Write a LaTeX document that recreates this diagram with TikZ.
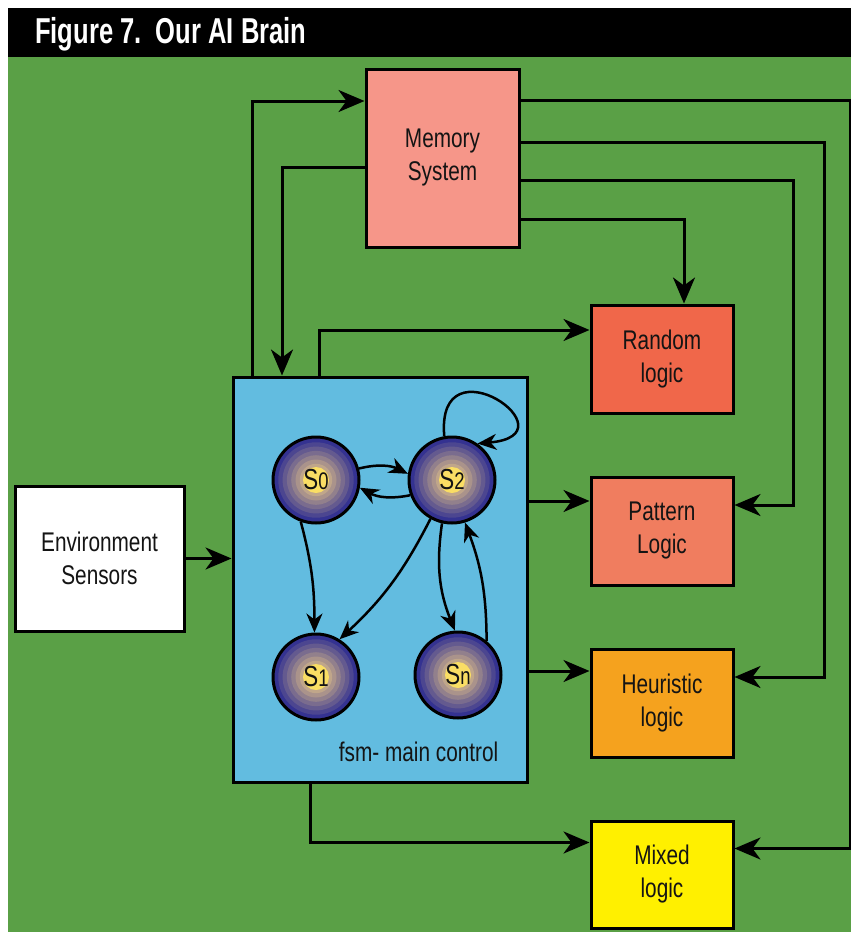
\documentclass[tikz,border=0pt]{standalone}
\usepackage{fontspec}
\setmainfont{Liberation Sans}[FakeStretch=0.77]
\newfontfamily\titlefont{Liberation Sans}[FakeStretch=0.71]
\usepackage{tikz}
\usetikzlibrary{arrows.meta,positioning}

\definecolor{bggreen}{RGB}{90,160,70}
\definecolor{fsmblue}{RGB}{98,188,224}
\definecolor{memfill}{RGB}{246,150,137}
\definecolor{randfill}{RGB}{240,103,74}
\definecolor{pattfill}{RGB}{240,125,95}
\definecolor{heurfill}{RGB}{245,162,30}
\definecolor{mixdfill}{RGB}{255,240,0}
\definecolor{ringnavy}{RGB}{52,50,145}
\definecolor{ringtan}{RGB}{192,166,138}
\definecolor{ringyellow}{RGB}{250,222,100}
\definecolor{inkgray}{RGB}{20,20,20}

\tikzset{
	box/.style	= {draw, line width=3pt, minimum width=142pt, minimum height=108pt, inner sep=0pt,
			   align=center, text=inkgray, font=\fontsize{27}{33}\selectfont},
	wire/.style	= {line width=3pt, -{Stealth[length=26pt, width=22pt, inset=8pt]}},
	trans/.style	= {line width=2.5pt, -{Stealth[length=19pt, width=16pt, inset=6pt]}},
	state/.style	= {circle, draw, line width=3pt, minimum size=86pt, inner sep=0pt,
			   text=inkgray, font=\fontsize{29}{29}\selectfont,
			   path picture={
				\foreach \k in {0,...,6} {
					\pgfmathtruncatemacro\mix{100-\k*100/6}
					\fill[ringnavy!\mix!ringtan] (path picture bounding box.center) circle ({42-\k*4.3});
				}
				\fill[ringyellow] (path picture bounding box.center) circle (13);
			   }},
}

\begin{document}
\begin{tikzpicture}[x=1pt, y=-1pt, on grid]
	\useasboundingbox (0,0) rectangle (851,932);
	\fill[white]	(0,0) rectangle (851,932);
	\fill[black]	(8,8) rectangle (851,57);
	\fill[bggreen]	(8,57) rectangle (851,932);

	\node	(title)	[anchor=base west, inner sep=0pt, text=white, font=\titlefont\bfseries\fontsize{36}{36}\selectfont]
			at (35,43)	{Figure 7.\ \ Our AI Brain};

	\node	(mem)	[box, fill=memfill, minimum width=153pt, minimum height=178pt]	at (442.5,158)	{Memory\\System};
	\node	(env)	[box, fill=white, minimum width=169pt, minimum height=145pt]	at (99.5,558.5)	{Environment\\Sensors};
	\node	(fsm)	[box, fill=fsmblue, minimum width=294pt, minimum height=405pt]	at (380,579.5)	{};

	\node	(rand)	[box, fill=randfill]					at (662,359)	{Random\\logic};
	\node	(patt)	[box, fill=pattfill, below=172pt of rand]		{Pattern\\Logic};
	\node	(heur)	[box, fill=heurfill, below=172pt of patt]		{Heuristic\\logic};
	\node	(mixd)	[box, fill=mixdfill, below=171.5pt of heur, minimum height=107pt]	{Mixed\\logic};

	\node	(S0)	[state]						at (316,480)	{S{\fontsize{24}{24}\selectfont 0}};
	\node	(S2)	[state, right=136pt of S0]			{S{\fontsize{24}{24}\selectfont 2}};
	\node	(S1)	[state, below=197pt of S0]			{S{\fontsize{24}{24}\selectfont 1}};
	\node	(Sn)	[state, below=195pt of S2, xshift=6pt]		{S{\fontsize{24}{24}\selectfont n}};

	\node	(fsmlabel)	[anchor=base east, inner sep=0pt, text=inkgray, font=\fontsize{27}{27}\selectfont]
			at ([xshift=-30pt, yshift=22pt]fsm.south east)	{fsm- main control};

	\coordinate	(randin)	at ([yshift=29pt]rand.west);
	\coordinate	(pattin)	at ([yshift=30pt]patt.west);
	\coordinate	(heurin)	at ([yshift=32pt]heur.west);
	\coordinate	(mixdin)	at ([yshift=32pt]mixd.west);
	\coordinate	(pattout)	at ([yshift=26pt]patt.east);
	\coordinate	(heurout)	at ([yshift=26pt]heur.east);
	\coordinate	(mixdout)	at ([yshift=26pt]mixd.east);

	\draw [wire]	(env)				--	(env -| fsm.west);
	\draw [wire]	([xshift=-128pt]fsm.north)	|-	([yshift=57pt]mem.west);
	\draw [wire]	([yshift=-9pt]mem.west)		-|	([xshift=-98pt]fsm.north);
	\draw [wire]	([xshift=-61pt]fsm.north)	|-	(randin);
	\draw [wire]	(fsm.east |- pattin)		--	(pattin);
	\draw [wire]	(fsm.east |- heurin)		--	(heurin);
	\draw [wire]	([xshift=-70pt]fsm.south)	|-	(mixdin);

	\draw [wire]	([yshift=-61pt]mem.east)	-|	([xshift=22pt]rand.north);
	\draw [wire]	([yshift=-22pt]mem.east)	-|	([xshift=59pt]pattout)	--	(pattout);
	\draw [wire]	([yshift=16pt]mem.east)		-|	([xshift=90pt]heurout)	--	(heurout);
	\draw [wire]	([yshift=58pt]mem.east)		-|	([xshift=116pt]mixdout)	--	(mixdout);

	\path [trans]
	(S0.15)		edge [bend left=20]			(S2.172)
	(S2.200)	edge [bend left=20]			(S0.350)
	(S2.100)	edge [out=95, in=5, looseness=7.5]	(S2.55)
	(S0.250)	edge [out=-75, in=90]			(S1.92)
	(S2.241)	edge [bend left=10]			(S1.58)
	(S2.257)	edge [bend right=15]			(Sn.94)
	(Sn.50)		edge [bend right=10]			(S2.287)
	;
\end{tikzpicture}
\end{document}
